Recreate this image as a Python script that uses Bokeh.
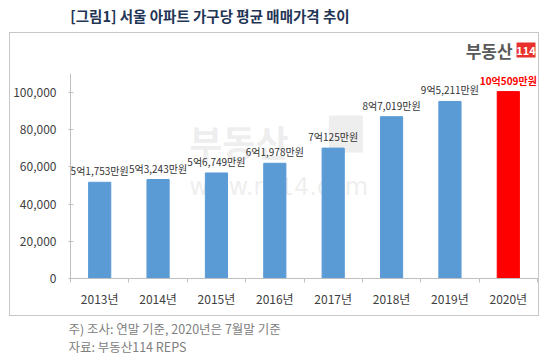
from bokeh.plotting import figure
from bokeh.models import (ColumnDataSource, Range1d, FixedTicker, NumeralTickFormatter,
                          LabelSet, Label, BoxAnnotation)
from bokeh.layouts import column
from bokeh.core.properties import value
from bokeh.embed import file_html
from bokeh.resources import INLINE

# ---- data ----
years = ["2013년", "2014년", "2015년", "2016년", "2017년", "2018년", "2019년", "2020년"]
prices = [51753, 53243, 56749, 61978, 70125, 87019, 95211, 100509]  # 만원
y_ticks = [0, 20000, 40000, 60000, 80000, 100000]
title_text = "[그림1] 서울 아파트 가구당 평균 매매가격 추이"
note1 = "주) 조사: 연말 기준, 2020년은 7월말 기준"
note2 = "자료: 부동산114 REPS"

FONT = "Noto Sans CJK KR"
BLUE = "#5B9BD5"
RED = "#FF0000"

xs = list(range(1, len(years) + 1))
colors = [BLUE] * (len(years) - 1) + [RED]
label_txt = [f"{v // 10000}억{v % 10000:,}만원" for v in prices]
label_col = ["#333333"] * (len(years) - 1) + [RED]
label_style = ["normal"] * (len(years) - 1) + ["bold"]

src = ColumnDataSource(dict(x=xs, top=prices, color=colors, txt=label_txt,
                            tcol=label_col, tstyle=label_style))


def deco_fig(w, h):
    f = figure(width=w, height=h, output_backend="svg", toolbar_location=None,
               x_range=Range1d(0, w), y_range=Range1d(h, 0), x_axis_type=None, y_axis_type=None,
               min_border=0, min_border_left=0, min_border_right=0, min_border_top=0,
               min_border_bottom=0, background_fill_color="white", border_fill_color="white")
    f.outline_line_color = None
    f.grid.visible = False
    return f


# ---- header ----
head = deco_fig(550, 32)
head.add_layout(Label(x=11, y=15, text=title_text, text_font=FONT, text_font_size="14.5px",
                      text_font_style="bold", text_color="#1f3556", text_baseline="middle"))

# ---- main chart ----
MW, MH = 530, 284
p = figure(width=MW, height=MH, output_backend="svg", toolbar_location=None,
           x_range=Range1d(0.5, len(years) + 0.5), y_range=Range1d(0, 128000),
           min_border_left=59, min_border_right=3, min_border_top=7, min_border_bottom=39,
           background_fill_color="white", border_fill_color="white",
           styles={"border": "1px solid #c8c8c8"}, margin=(0, 0, 0, 9))
p.outline_line_color = None
p.grid.grid_line_color = None

p.vbar(x="x", top="top", width=0.38, color="color", source=src)

p.add_layout(LabelSet(x="x", y="top", text="txt", source=src, text_align="center",
                      text_baseline="bottom", y_offset=4, text_font_size="10px",
                      text_color="tcol", text_font_style="tstyle", text_font=value(FONT)))

p.yaxis.ticker = FixedTicker(ticks=y_ticks)
p.yaxis.bounds = (0, 110000)
p.yaxis.formatter = NumeralTickFormatter(format="0,0")
p.yaxis.major_label_text_font = FONT
p.yaxis.major_label_text_font_size = "12px"
p.yaxis.major_label_text_color = "#404040"
p.yaxis.major_label_standoff = 12
p.yaxis.axis_line_color = "#bfbfbf"
p.yaxis.major_tick_line_color = "#bfbfbf"
p.yaxis.major_tick_in = 3
p.yaxis.major_tick_out = 2
p.yaxis.minor_tick_line_color = None

p.xaxis.ticker = FixedTicker(ticks=xs, minor_ticks=[x + 0.5 for x in [0] + xs])
p.xaxis.major_label_overrides = {x: y for x, y in zip(xs, years)}
p.xaxis.major_label_text_font = FONT
p.xaxis.major_label_text_font_size = "12px"
p.xaxis.major_label_text_color = "#404040"
p.xaxis.major_label_standoff = 5
p.xaxis.axis_line_color = "#bfbfbf"
p.xaxis.major_tick_line_color = None
p.xaxis.minor_tick_line_color = "#bfbfbf"
p.xaxis.minor_tick_in = 0
p.xaxis.minor_tick_out = 4


# page pixel -> data coordinates (decorations inside the main frame)
def fx(px):
    return 0.5 + (px - 69) * len(years) / 468.0


def fy(py):
    return (278 - py) * 100000 / 186.0


# watermark
p.add_layout(Label(x=fx(188), y=fy(140), text="부동산", text_font=FONT, text_font_size="36px",
                   text_font_style="bold", text_color="#bbbbbb", text_alpha=0.25,
                   text_baseline="middle", level="underlay"))
p.add_layout(BoxAnnotation(left=fx(328), right=fx(362), top=fy(115), bottom=fy(152),
                           fill_color="#bbbbbb", fill_alpha=0.25, line_alpha=0, level="underlay"))
p.add_layout(Label(x=fx(188), y=fy(186), text="www.r114.com", text_font="DejaVu Sans",
                   text_font_size="24px", text_color="#bbbbbb", text_alpha=0.25,
                   text_baseline="middle", level="underlay"))

# logo
p.add_layout(Label(x=fx(512), y=fy(50), text="부동산", text_font=FONT, text_font_size="17px",
                   text_font_style="bold", text_color="#595959", text_align="right",
                   text_baseline="middle"))
p.add_layout(BoxAnnotation(left=fx(516), right=fx(535), top=fy(42), bottom=fy(57),
                           fill_color="#e8312a", fill_alpha=1, line_alpha=0))
p.add_layout(Label(x=fx(525.5), y=fy(49.5), text="114", text_font=FONT, text_font_size="11px",
                   text_font_style="bold", text_color="white", text_align="center",
                   text_baseline="middle"))

# ---- footer ----
foot = deco_fig(550, 42)
foot.add_layout(Label(x=9, y=12, text=note1, text_font=FONT, text_font_size="12.5px",
                      text_color="#808080", text_baseline="middle"))
foot.add_layout(Label(x=9, y=30, text=note2, text_font=FONT, text_font_size="12.5px",
                      text_color="#808080", text_baseline="middle"))

layout = column(head, p, foot, spacing=0)
open("out.html", "w").write(file_html(layout, INLINE))
